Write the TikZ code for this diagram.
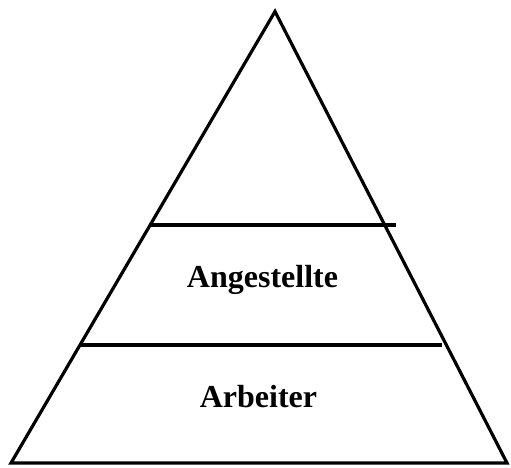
\documentclass[tikz,border=0pt]{standalone}
\usepackage{fontspec}
\setmainfont{Liberation Serif}
\begin{document}
\begin{tikzpicture}[x=1pt, y=-1pt,
    edge/.style={line width=3.2pt, line join=miter},
    tier/.style={font=\fontsize{32}{38}\selectfont\bfseries, anchor=base}
]
    \useasboundingbox (0,0) rectangle (511,467);

    % Corners of the pyramid
    \coordinate (top) at (275,11.5);
    \coordinate (left) at (11,463);
    \coordinate (right) at (507,463);
    \draw[edge] (left) -- (top) -- (right) -- cycle;

    % Dividing lines
    \coordinate (d1l) at (151,225);
    \coordinate (d1r) at (396,225);
    \coordinate (d2l) at (80,345);
    \coordinate (d2r) at (442,345);
    \draw[edge] (d1l) -- (d1r);
    \draw[edge] (d2l) -- (d2r);

    % Tier labels
    \node[tier] (ang) at (262.5,287) {Angestellte};
    \node[tier] (arb) at (258.5,407) {Arbeiter};
\end{tikzpicture}
\end{document}
